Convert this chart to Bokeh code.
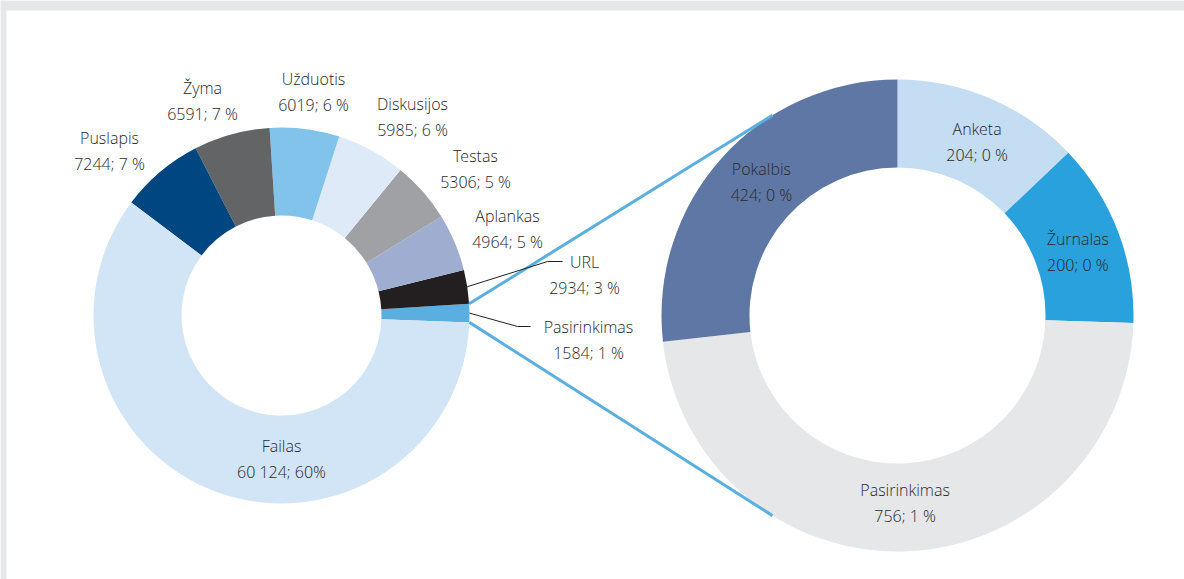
import numpy as np
from bokeh.plotting import figure
from bokeh.models import Range1d, ColumnDataSource
from bokeh.core.properties import value
from bokeh.embed import file_html
from bokeh.resources import INLINE

# ---------------- data ----------------
left_cats = ["Pasirinkimas", "URL", "Aplankas", "Testas", "Diskusijos",
             "Užduotis", "Žyma", "Puslapis", "Failas"]
left_values = [1584, 2934, 4964, 5306, 5985, 6019, 6591, 7244, 60124]
left_value_text = ["1584", "2934", "4964", "5306", "5985", "6019", "6591", "7244", "60 124"]
left_pct_text = ["1 %", "3 %", "5 %", "5 %", "6 %", "6 %", "7 %", "7 %", "60%"]

right_cats = ["Anketa", "Žurnalas", "Pasirinkimas", "Pokalbis"]
right_values = [204, 200, 756, 424]
right_pct_text = ["0 %", "0 %", "1 %", "0 %"]

# ---------------- styles / layout ----------------
left_colors = ["#5aafe0", "#231f20", "#9fadd0", "#a0a1a4", "#deeaf8",
               "#82c3eb", "#636466", "#004681", "#d2e5f6"]
right_colors = ["#c5ddf2", "#29a1dc", "#e6e7e8", "#5e77a5"]
TEXT = "#2a2a2a"
FONT = value("Open Sans Light, Open Sans")
FS = "16px"
LINE_GAP = 26
FRAME = "#e6e7e8"

W, H = 1184, 579
def Y(sy):  # screen y -> data y
    return H - sy

LCX, LCY = 281, Y(315)
L_RIN, L_ROUT = 100, 188
RCX, RCY = 897, Y(315)
R_RIN, R_ROUT = 148, 236
L_START = np.deg2rad(-2.1)

# label block centres, offsets from left centre (screen px: dx, dy down)
left_label_off = {
    "Pasirinkimas": (307, 24), "URL": (303, -41), "Aplankas": (226, -87),
    "Testas": (194, -147), "Diskusijos": (131, -199), "Užduotis": (32, -224),
    "Žyma": (-79, -215), "Puslapis": (-172, -165), "Failas": (0, 143),
}
# small nudges of right-donut labels (screen px: dx, dy down)
right_label_nudge = {"Anketa": (4, 3), "Žurnalas": (1, 5),
                     "Pasirinkimas": (0, -4), "Pokalbis": (7, -5)}

p = figure(width=W, height=H, x_range=Range1d(0, W), y_range=Range1d(0, H),
           output_backend="svg", toolbar_location=None, min_border=0)
p.axis.visible = False
p.grid.visible = False
p.outline_line_color = None
p.background_fill_color = "white"
p.border_fill_color = "white"

# frame strips (top and left)
p.quad(left=[0, 0], right=[W, 6], bottom=[Y(10), 0], top=[H, H],
       fill_color=FRAME, line_color=None)

# ---- left donut ----
lv = np.array(left_values, dtype=float)
ltot = lv.sum()
lang = lv / ltot * 2 * np.pi
lend = L_START + np.cumsum(lang)
lstart = lend - lang
lsrc = ColumnDataSource(dict(start=lstart, end=lend, color=left_colors))
p.annular_wedge(x=LCX, y=LCY, inner_radius=L_RIN, outer_radius=L_ROUT,
                start_angle="start", end_angle="end", fill_color="color",
                line_color=None, source=lsrc)

# ---- right donut (clockwise from top) ----
rv = np.array(right_values, dtype=float)
rtot = rv.sum()
rang = rv / rtot * 2 * np.pi
rcum = np.cumsum(rang)
r_start = np.pi / 2 - (rcum - rang)
r_end = np.pi / 2 - rcum
rsrc = ColumnDataSource(dict(start=r_start, end=r_end, color=right_colors))
p.annular_wedge(x=RCX, y=RCY, inner_radius=R_RIN, outer_radius=R_ROUT,
                start_angle="start", end_angle="end", fill_color="color",
                line_color=None, direction="clock", source=rsrc)

# ---- connector lines between donuts ----
i_sel = left_cats.index("Pasirinkimas")
a_top, a_bot = lend[i_sel], lstart[i_sel]
conn_top_r = np.deg2rad(122)
conn_bot_r = np.deg2rad(238)
for a1, a2 in [(a_top, conn_top_r), (a_bot, conn_bot_r)]:
    p.line([LCX + L_ROUT * np.cos(a1), RCX + R_ROUT * np.cos(a2)],
           [LCY + L_ROUT * np.sin(a1), RCY + R_ROUT * np.sin(a2)],
           line_color="#5aafe0", line_width=3)

# ---- leader lines ----
lmid = (lstart + lend) / 2
for cat in ["URL", "Pasirinkimas"]:
    i = left_cats.index(cat)
    dx, dy = left_label_off[cat]
    lx, ly = LCX + dx, LCY - dy
    y1 = ly + LINE_GAP / 2
    if cat == "URL":
        ex, ee = lx - 37, lx - 22
    else:
        ex, ee = lx - 71, lx - 58
    sx = LCX + L_ROUT * np.cos(lmid[i])
    sy = LCY + L_ROUT * np.sin(lmid[i])
    p.line([sx, ex, ee], [sy, y1, y1], line_color="#231f20", line_width=1)

# ---- labels ----
tx, ty, tt = [], [], []
for i, cat in enumerate(left_cats):
    dx, dy = left_label_off[cat]
    lx, ly = LCX + dx, LCY - dy
    tx += [lx, lx]
    ty += [ly + LINE_GAP / 2, ly - LINE_GAP / 2]
    tt += [cat, f"{left_value_text[i]}; {left_pct_text[i]}"]

rmid = (r_start + r_end) / 2
r_lab = (R_RIN + R_ROUT) / 2
for i, cat in enumerate(right_cats):
    ndx, ndy = right_label_nudge[cat]
    lx = RCX + r_lab * np.cos(rmid[i]) + ndx
    ly = RCY + r_lab * np.sin(rmid[i]) - ndy
    tx += [lx, lx]
    ty += [ly + LINE_GAP / 2, ly - LINE_GAP / 2]
    tt += [cat, f"{right_values[i]}; {right_pct_text[i]}"]

p.text(x=tx, y=ty, text=tt, text_align="center", text_baseline="middle",
       text_font=FONT, text_font_size=FS, text_color=TEXT)

open("out.html", "w").write(file_html(p, INLINE))
